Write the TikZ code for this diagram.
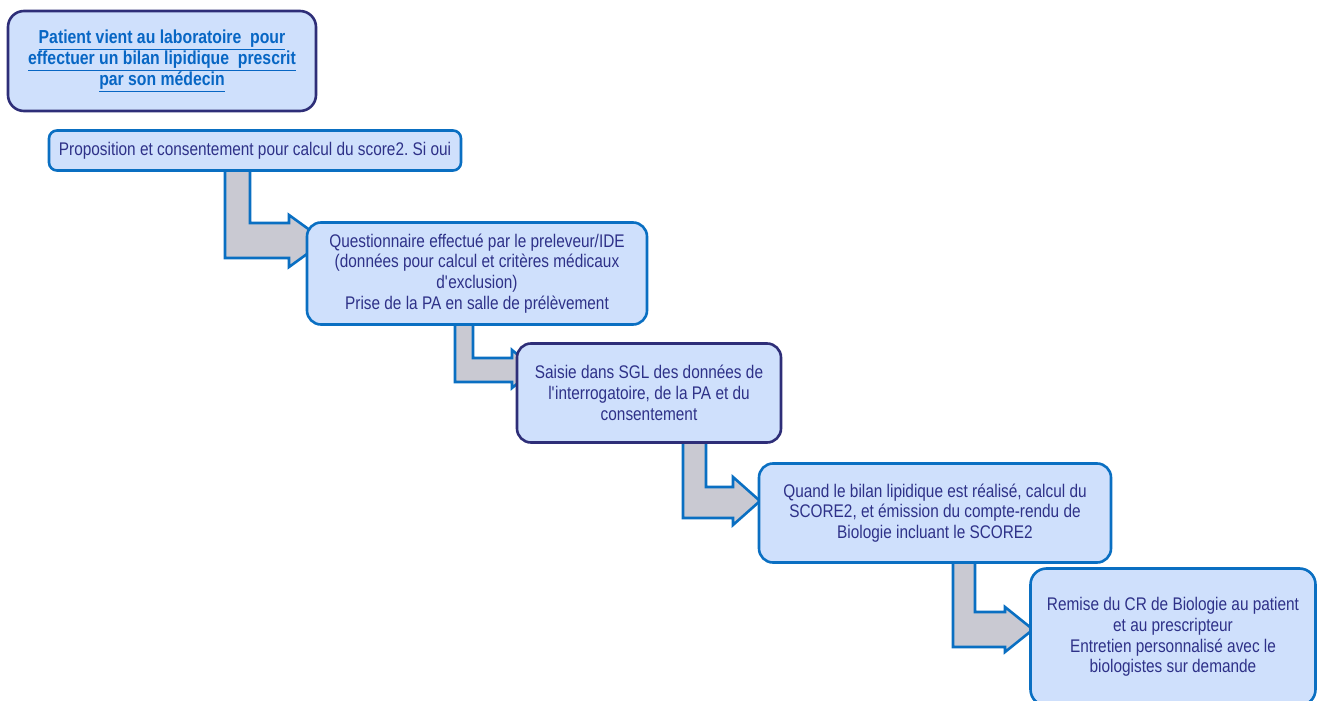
\documentclass[tikz,border=0pt]{standalone}
\usepackage{fontspec}
\setmainfont{Liberation Sans}[FakeStretch=0.84]
\usetikzlibrary{backgrounds}
\frenchspacing

\definecolor{boxfill}{HTML}{CFE0FC}
\definecolor{navyline}{HTML}{2E2E78}
\definecolor{blueline}{HTML}{0A6FC2}
\definecolor{navytext}{HTML}{2E3188}
\definecolor{titletext}{HTML}{0766C4}
\definecolor{arrowfill}{HTML}{C9C9D2}

\tikzset{
	stepbox/.style={draw=blueline, line width=2.6pt, fill=boxfill, rounded corners=14pt,
		inner sep=0pt, align=center, text=navytext, font=\fontsize{18.3}{20.7}\selectfont},
	navybox/.style={stepbox, draw=navyline},
	flowarrow/.style={draw=blueline, line width=2.6pt, fill=arrowfill, line join=miter},
}

% #1 source node, #2 #3 shaft x, #4 #5 bar y, #6 head base x, #7 #8 head y, #9 tip x
\newcommand{\bentarrow}[9]{%
	\draw[flowarrow] (#2,0 |- #1.center) -- (#2,#5) -- (#6,#5) -- (#6,#8)
		-- (#9,{(#7+#8)/2}) -- (#6,#7) -- (#6,#4) -- (#3,#4) -- (#3,0 |- #1.center) -- cycle;}

\begin{document}
\begin{tikzpicture}[x=1pt,y=-1pt]
	\useasboundingbox (0,0) rectangle (1318,701);

	%Boxes
	\node[navybox, minimum width=308pt, minimum height=100pt, rounded corners=16pt,
		text=titletext, font=\bfseries\fontsize{18.8}{21}\selectfont] (patient) at (162,61)
		{\underline{Patient vient au laboratoire\ \ pour}\\
		 \underline{effectuer un bilan lipidique\ \ prescrit}\\
		 \underline{par son médecin}};
	\node[stepbox, minimum width=412pt, minimum height=40pt, rounded corners=8pt] (consent) at (255,150.5)
		{Proposition et consentement pour calcul du score2. Si oui};
	\node[stepbox, minimum width=340pt, minimum height=102pt] (quest) at (477,273.5)
		{Questionnaire effectué par le preleveur/IDE\\
		 (données pour calcul et critères médicaux\\
		 d\textquotesingle exclusion)\\
		 Prise de la PA en salle de prélèvement};
	\node[navybox, minimum width=264pt, minimum height=99pt] (sgl) at (649,393)
		{Saisie dans SGL des données de\\
		 l\textquotesingle interrogatoire, de la PA et du\\
		 consentement};
	\node[stepbox, minimum width=352pt, minimum height=99pt] (score) at (935,513)
		{Quand le bilan lipidique est réalisé, calcul du\\
		 SCORE2, et émission du compte-rendu de\\
		 Biologie incluant le SCORE2};
	\node[stepbox, minimum width=285pt, minimum height=137pt, rounded corners=16pt] (remise) at (1173,637)
		{Remise du CR de Biologie au patient\\
		 et au prescripteur\\
		 Entretien personnalisé avec le\\
		 biologistes sur demande};

	%Arrows
	\begin{scope}[on background layer]
		\bentarrow{consent}{225}{250}{223}{258}{289}{215}{267}{325}
		\bentarrow{quest}{455}{473}{358}{382}{512}{350}{388}{535}
		\bentarrow{sgl}{683}{706}{487}{518}{733}{477}{525}{760}
		\bentarrow{score}{953}{975}{612}{647}{1005}{607}{652}{1033}
	\end{scope}
\end{tikzpicture}
\end{document}
